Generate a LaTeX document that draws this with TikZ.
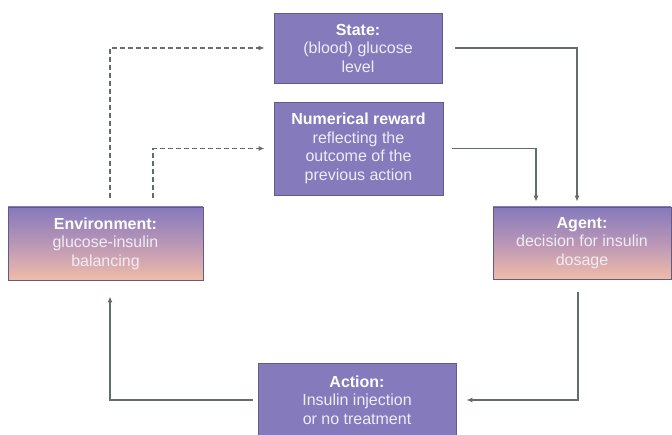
\documentclass[tikz,border=0pt]{standalone}
\usepackage{fontspec}
\setmainfont{Liberation Sans}
\usetikzlibrary{arrows.meta}
\definecolor{boxpurple}{RGB}{133,122,188}
\definecolor{boxsalmon}{RGB}{240,188,168}
\definecolor{boxedge}{RGB}{100,90,135}
\definecolor{linegray}{RGB}{100,110,105}
\definecolor{textbody}{RGB}{240,236,246}
\tikzset{
  box/.style={draw=boxedge, line width=0.8pt, fill=boxpurple, align=center,
    inner sep=0pt, text=textbody, font=\fontsize{16}{18.5}\selectfont},
  gradbox/.style={box, fill=none, top color=boxpurple, bottom color=boxsalmon, middle color={rgb,255:red,185;green,150;blue,182}},
  flow/.style={draw=linegray, line width=1.5pt, -{Latex[length=6pt,width=5pt]}},
  dflow/.style={flow, dash pattern=on 5pt off 3pt}
}
\begin{document}
\begin{tikzpicture}[x=1pt,y=-1pt]
\useasboundingbox (0,0) rectangle (672,435);
\node[box, minimum width=168pt, minimum height=70pt] (S) at (358,48)
  {\textbf{\color{white}State:}\\(blood) glucose\\level};
\node[box, minimum width=169pt, minimum height=93pt] (R) at (358.5,148.5)
  {\textbf{\color{white}Numerical reward}\\reflecting the\\outcome of the\\previous action};
\node[gradbox, minimum width=195pt, minimum height=73pt] (E) at (105.5,243.5)
  {\textbf{\color{white}Environment:}\\glucose-insulin\\balancing};
\node[gradbox, minimum width=178pt, minimum height=72pt] (A) at (582,243)
  {\textbf{\color{white}Agent:}\\decision for insulin\\dosage};
\node[box, minimum width=198pt, minimum height=74pt] (Ac) at (357,400)
  {\textbf{\color{white}Action:}\\Insulin injection\\or no treatment};
\draw[flow] ([xshift=13pt]S.east) -| ([xshift=-5pt,yshift=5pt]A.north);
\draw[flow] ([xshift=9pt]R.east) -| ([xshift=-46pt,yshift=5pt]A.north);
\draw[dflow] ([xshift=4.5pt,yshift=9pt]E.north) |- ([xshift=-9pt]S.west);
\draw[dflow] ([xshift=47.5pt,yshift=9pt]E.north) |- ([xshift=-9pt]R.west);
\draw[flow] ([xshift=-4pt,yshift=-13pt]A.south) |- ([xshift=10pt]Ac.east);
\draw[flow] ([xshift=-5pt]Ac.west) -| ([xshift=4.5pt,yshift=-16pt]E.south);
\end{tikzpicture}
\end{document}
